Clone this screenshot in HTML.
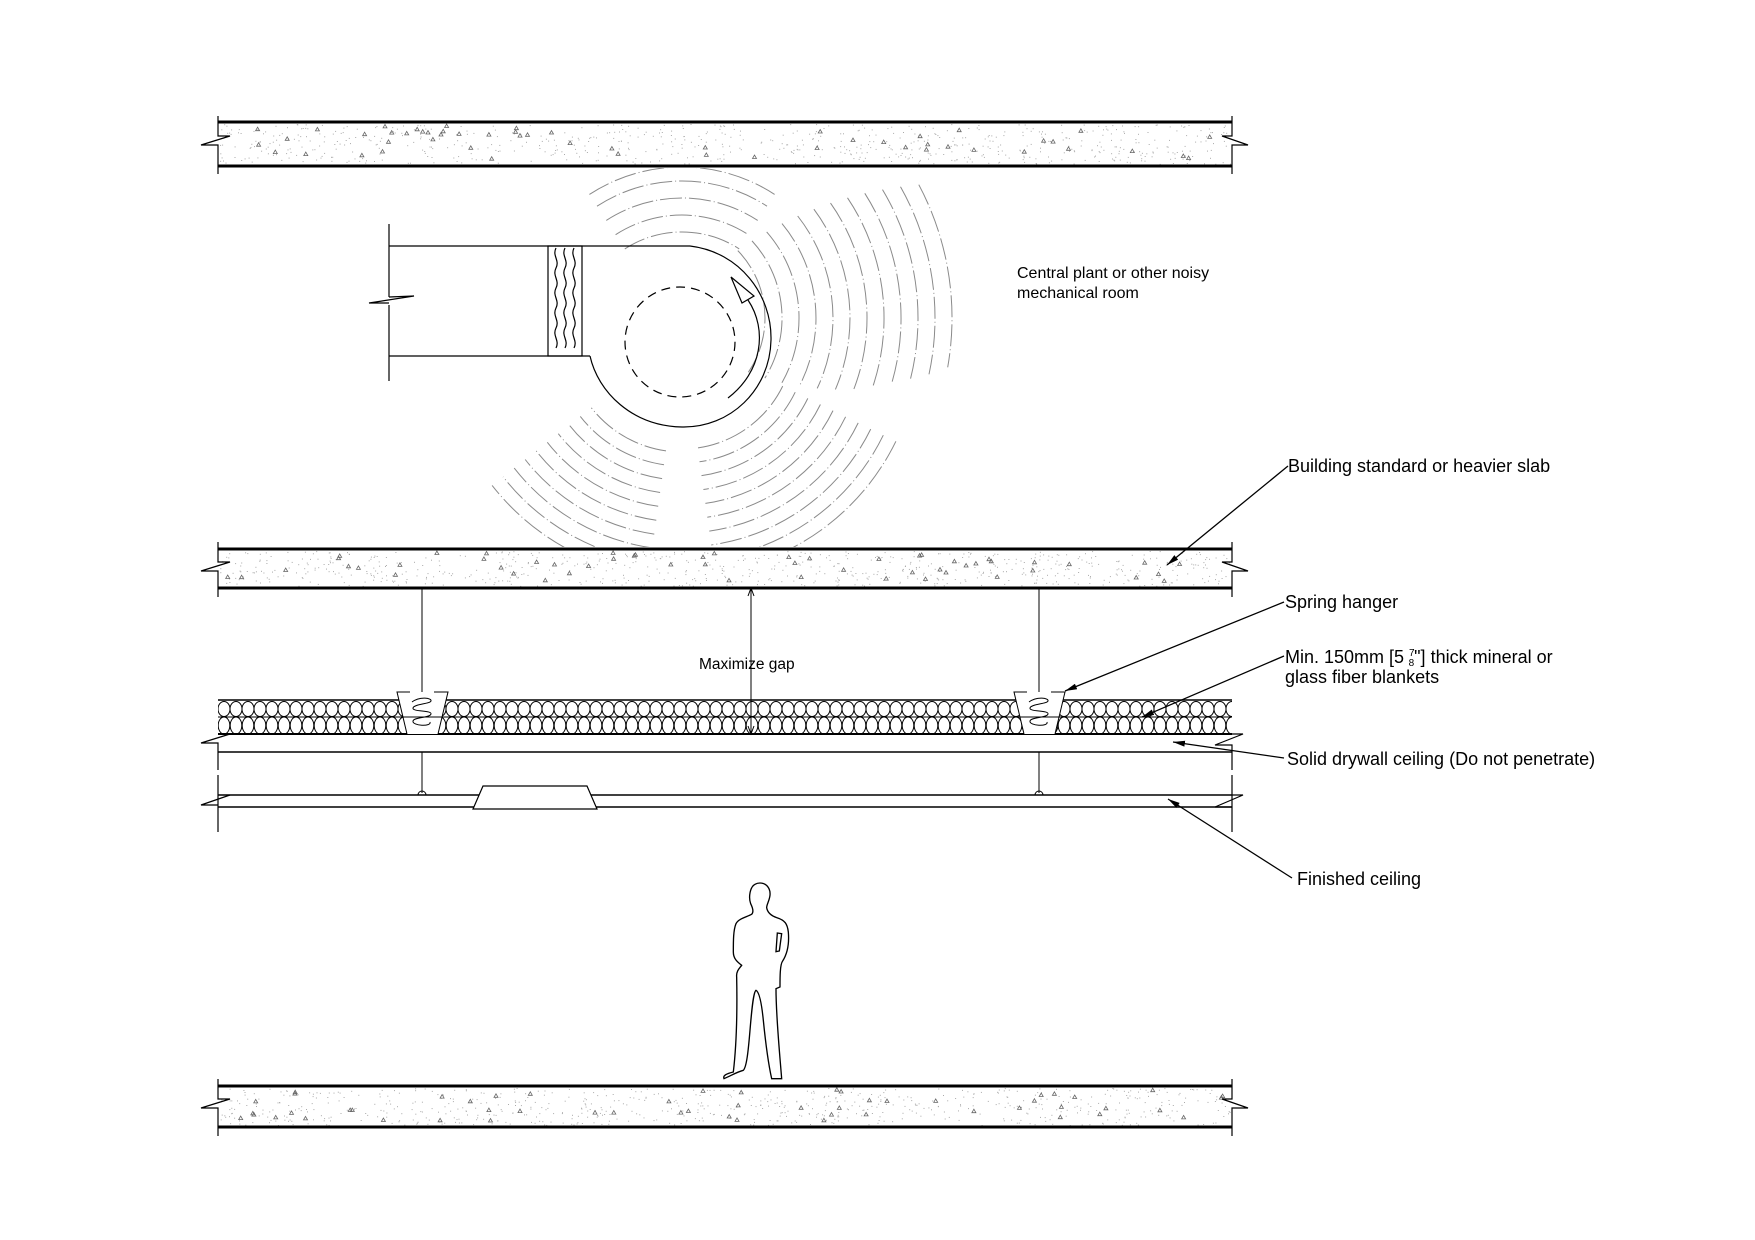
<!DOCTYPE html>
<html><head><meta charset="utf-8"><style>
html,body{margin:0;padding:0;background:#fff;}
svg{display:block;}
text{font-family:"Liberation Sans",Arial,sans-serif;fill:#000;}
</style></head><body>
<svg id="s" width="1755" height="1240" viewBox="0 0 1755 1240" xmlns="http://www.w3.org/2000/svg">
<defs>
<marker id="ar" viewBox="0 0 12 6" refX="12" refY="3" markerWidth="12" markerHeight="6" orient="auto" markerUnits="userSpaceOnUse">
<path d="M0,0 L12,3 L0,6 z" fill="#000"/></marker>
<clipPath id="wc"><rect x="0" y="168" width="1755" height="379"/></clipPath>
<pattern id="ins" x="218" y="700" width="12" height="34" patternUnits="userSpaceOnUse">
<ellipse cx="6" cy="9" rx="6" ry="7.5" fill="none" stroke="#000" stroke-width="1"/>
<ellipse cx="6" cy="25.5" rx="5.8" ry="8.5" fill="none" stroke="#000" stroke-width="1"/>
</pattern>
</defs>
<g id="waves" clip-path="url(#wc)" fill="none" stroke="#8a8a8a" stroke-width="1" stroke-dasharray="22 3 1 3"></g>
<g id="conc"></g>
<g fill="none" stroke="#000">
<g stroke-width="3">
<line x1="218" y1="122" x2="1232" y2="122"/><line x1="218" y1="166" x2="1232" y2="166"/>
<line x1="218" y1="549" x2="1232" y2="549"/><line x1="218" y1="588" x2="1232" y2="588"/>
<line x1="218" y1="1086" x2="1232" y2="1086"/><line x1="218" y1="1127" x2="1232" y2="1127"/>
</g>
<g stroke-width="1.2">
<polyline points="218,116 218,136 230,136 201,145 218,145 218,174"/>
<polyline points="1232,116 1232,136 1222,136 1248,145 1232,145 1232,174"/>
<polyline points="218,542 218,562 230,562 201,571 218,571 218,597"/>
<polyline points="1232,542 1232,562 1222,562 1248,571 1232,571 1232,597"/>
<polyline points="218,1079 218,1099 230,1099 201,1108 218,1108 218,1136"/>
<polyline points="1232,1079 1232,1099 1222,1099 1248,1108 1232,1108 1232,1136"/>
</g>
<rect x="218" y="700" width="1014" height="34" fill="url(#ins)" stroke="none"/>
<line x1="218" y1="700" x2="1232" y2="700" stroke-width="1.5"/>
<line x1="218" y1="717" x2="1232" y2="717" stroke-width="1"/>
<line x1="218" y1="734" x2="1232" y2="734" stroke-width="2"/>
<line x1="218" y1="752" x2="1232" y2="752" stroke-width="1.5"/>
<polyline stroke-width="1.2" points="230,734 201,743 218,743 218,770"/>
<polyline stroke-width="1.2" points="1232,734 1243,734 1215,745 1232,745 1232,770"/>
<line x1="218" y1="775" x2="218" y2="832" stroke-width="1.2"/>
<line x1="1232" y1="775" x2="1232" y2="832" stroke-width="1.2"/>
<line x1="218" y1="795" x2="1232" y2="795" stroke-width="1.5"/>
<line x1="218" y1="807" x2="1232" y2="807" stroke-width="1.5"/>
<polyline stroke-width="1.2" points="230,795 201,805 218,805"/>
<polyline stroke-width="1.2" points="1232,795 1243,795 1215,807 1232,807"/>
<polygon points="483,786 587,786 597,809 473,809" fill="#fff" stroke-width="1.2"/>
<g stroke-width="1">
<line x1="422" y1="588" x2="422" y2="725"/><line x1="422" y1="752" x2="422" y2="793"/>
<path d="M418,795 A4,4 0 0 1 426,795"/>
<line x1="1039" y1="588" x2="1039" y2="725"/><line x1="1039" y1="752" x2="1039" y2="793"/>
<path d="M1035,795 A4,4 0 0 1 1043,795"/>
</g>
<g stroke-width="1">
<polygon points="397,692 448,692 438,734 407,734" fill="#fff" stroke="none"/>
<line x1="397" y1="717" x2="448" y2="717" stroke-width="1"/>
<polyline points="407,734 397,692 410,692"/><polyline points="438,734 448,692 434,692"/>
<path d="M412,702 C420,696 432,698 431,701 C430,704 414,704 413,708 C412,712 432,710 431,714 C430,718 414,717 413,721 C412,726 432,727 430,722"/>
</g>
<g transform="translate(617,0)" stroke-width="1">
<polygon points="397,692 448,692 438,734 407,734" fill="#fff" stroke="none"/>
<line x1="397" y1="717" x2="448" y2="717" stroke-width="1"/>
<polyline points="407,734 397,692 410,692"/><polyline points="438,734 448,692 434,692"/>
<path d="M412,702 C420,696 432,698 431,701 C430,704 414,704 413,708 C412,712 432,710 431,714 C430,718 414,717 413,721 C412,726 432,727 430,722"/>
</g>
<line x1="751" y1="588" x2="751" y2="734" stroke-width="1"/>
<path d="M748,596 L751,588 L754,596 M748,726 L751,734 L754,726" stroke-width="1"/>
<g stroke-width="1.2">
<line x1="389" y1="224" x2="389" y2="297"/><line x1="389" y1="305" x2="389" y2="381"/>
<polyline points="389,297 414,296 369,303 389,303"/>
<line x1="389" y1="246" x2="690" y2="246"/>
<line x1="389" y1="356" x2="590" y2="356"/>
<rect x="548" y="246" width="34" height="110"/>
<path d="M556,248 c-4,8 4,12 0,20 c-4,8 4,12 0,20 c-4,8 4,12 0,20 c-4,8 4,12 0,20 c-4,8 4,12 0,20"/>
<path d="M565,248 c-4,8 4,12 0,20 c-4,8 4,12 0,20 c-4,8 4,12 0,20 c-4,8 4,12 0,20 c-4,8 4,12 0,20"/>
<path d="M574,248 c-4,8 4,12 0,20 c-4,8 4,12 0,20 c-4,8 4,12 0,20 c-4,8 4,12 0,20 c-4,8 4,12 0,20"/>
<path d="M690,246 C740,252 772,295 771,340 C770,390 730,428 682,427 C632,426 598,392 590,356"/>
<circle cx="680" cy="342" r="55" stroke-dasharray="9 6"/>
<path d="M728,398 C762,372 768,330 748,300"/>
<polygon points="731,277 754,296 742,303" fill="#fff"/>
</g>
<g stroke-width="1.3" marker-end="url(#ar)">
<line x1="1288" y1="466" x2="1167" y2="565"/>
<line x1="1284" y1="602" x2="1065" y2="691"/>
<line x1="1284" y1="656" x2="1142" y2="717"/>
<line x1="1284" y1="758" x2="1173" y2="742"/>
<line x1="1292" y1="878" x2="1168" y2="799"/>
</g>
<g transform="translate(700,877) scale(0.3333)" stroke-width="4">
<path d="M180,18 C200,18 212,35 210,55 C208,72 200,82 200,92 C202,105 210,115 230,122 C255,130 262,140 265,165 C268,200 262,230 248,252 C240,262 240,300 240,330 L228,335 C228,420 240,540 245,605 L215,605 C205,560 195,480 190,430 C185,380 178,345 168,340 C160,345 155,400 150,460 C145,520 140,570 130,580 C110,585 90,598 72,605 C68,595 80,590 100,585 C110,500 112,400 110,300 C108,282 120,272 125,265 C112,255 100,245 100,225 C100,190 100,160 108,140 C115,125 140,120 155,112 C162,105 158,92 152,80 C145,60 150,30 165,22 C170,19 175,18 180,18 Z"/>
<path d="M232,168 L245,170 L238,222 L228,224 Z"/>
</g>
</g>
<text x="1017" y="278" font-size="16">Central plant or other noisy</text>
<text x="1017" y="298" font-size="16">mechanical room</text>
<text x="699" y="669" font-size="15.5">Maximize gap</text>
<text x="1288" y="472" font-size="18">Building standard or heavier slab</text>
<text x="1285" y="608" font-size="18">Spring hanger</text>
<text x="1285" y="663" font-size="18">Min. 150mm [5 <tspan font-size="10" dy="-7">7</tspan><tspan font-size="10" dx="-6" dy="10">8</tspan><tspan dy="-3">"] thick mineral or</tspan></text>
<text x="1285" y="683" font-size="18">glass fiber blankets</text>
<text x="1287" y="765" font-size="18">Solid drywall ceiling (Do not penetrate)</text>
<text x="1297" y="885" font-size="18">Finished ceiling</text>
</svg>
<script>
(function(){
var NS="http://www.w3.org/2000/svg";
var w=document.getElementById('waves');
function arc(cx,cy,r,a1,a2){
 var t1=a1*Math.PI/180,t2=a2*Math.PI/180;
 var p=document.createElementNS(NS,'path');
 p.setAttribute('d','M'+(cx+r*Math.cos(t1)).toFixed(1)+','+(cy+r*Math.sin(t1)).toFixed(1)+' A'+r+','+r+' 0 0 1 '+(cx+r*Math.cos(t2)).toFixed(1)+','+(cy+r*Math.sin(t2)).toFixed(1));
 w.appendChild(p);
}
var i;
var top=[105,122,139,156,170];
for(i=0;i<top.length;i++)arc(682,337,top[i],-123,-57);
for(i=0;i<12;i++){var f=i/11;arc(668,318,97+i*17,-44+16*f,34-24*f);}
for(i=0;i<10;i++){var f2=i/9;arc(682,337,112+i*14,26,82);}
for(i=0;i<10;i++){var f3=i/9;arc(682,337,115+i*14,98,142);}
var g=document.getElementById('conc');
var seed=7;function rnd(){seed=(seed*16807)%2147483647;return seed/2147483647;}
var slabs=[[124,164],[551,586],[1088,1125]];
slabs.forEach(function(s){
 for(var k=0;k<700;k++){
  var x=220+rnd()*1010,y=s[0]+rnd()*(s[1]-s[0]);
  var c=document.createElementNS(NS,'rect');
  c.setAttribute('x',x.toFixed(1));c.setAttribute('y',y.toFixed(1));
  c.setAttribute('width','1');c.setAttribute('height','1');c.setAttribute('fill','#aaa');
  g.appendChild(c);
 }
 for(var k2=0;k2<55;k2++){
  var x2=222+rnd()*1004,y2=s[0]+3+rnd()*(s[1]-s[0]-6);
  var t=document.createElementNS(NS,'path');
  t.setAttribute('d','M'+x2.toFixed(1)+','+y2.toFixed(1)+' l2,-3.5 l2,3.5 z');
  t.setAttribute('fill','none');t.setAttribute('stroke','#666');t.setAttribute('stroke-width','0.8');
  g.appendChild(t);
 }
});
})();
</script>
</body></html>
